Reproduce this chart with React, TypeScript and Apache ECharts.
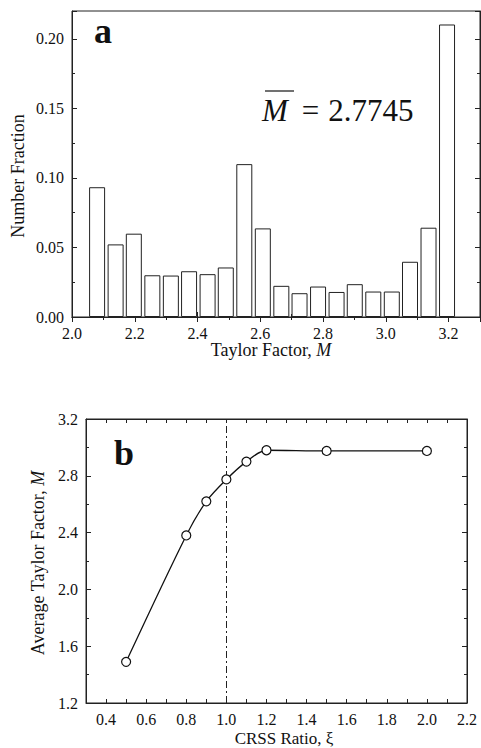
import React, { useEffect, useRef } from "react";
import * as echarts from "echarts";

// Panel a: histogram of Taylor factor
const barCenters = [2.08, 2.139, 2.197, 2.256, 2.315, 2.373, 2.432, 2.49, 2.549, 2.608, 2.667, 2.725, 2.784, 2.843, 2.901, 2.96, 3.019, 3.077, 3.136, 3.195];
const barFractions = [0.0933, 0.0522, 0.0599, 0.030, 0.0298, 0.0329, 0.0308, 0.0356, 0.1099, 0.0637, 0.0224, 0.0171, 0.0219, 0.018, 0.0236, 0.0183, 0.0183, 0.0397, 0.0642, 0.2103];

// Panel b: average Taylor factor vs CRSS ratio
const crssRatio = [0.5, 0.8, 0.9, 1.0, 1.1, 1.2, 1.5, 2.0];
const avgTaylor = [1.49, 2.38, 2.62, 2.7745, 2.9, 2.98, 2.975, 2.975];

const bXLabels = [0.4, 0.6, 0.8, 1.0, 1.2, 1.4, 1.6, 1.8, 2.0, 2.2];
const meanText = "2.7745";

const SERIF = "Liberation Serif";

export default function App() {
  const ref = useRef<HTMLDivElement>(null);
  useEffect(() => {
    if (!ref.current) return;
    const chart = echarts.init(ref.current, null, { renderer: "svg" });
    const tickLbl = { color: "#111", fontFamily: SERIF, fontSize: 16 };
    const line = { show: true, lineStyle: { color: "#222", width: 1 } };
    const tick = (len: number) => ({ show: true, inside: true, length: len, lineStyle: { color: "#222", width: 1 } });
    const minor = (n: number) => ({ show: true, splitNumber: n, length: 3, lineStyle: { color: "#222", width: 1 } });
    const txt = (text: string, x: number, y: number, size: number, extra: any = {}, rot = 0, richExtra: any = {}) => ({
      type: "text", x, y, rotation: rot,
      style: {
        text, fontFamily: SERIF, fontSize: size, fill: "#111", textAlign: "center", textVerticalAlign: "middle",
        rich: { i: { fontStyle: "italic", fontSize: size, fontFamily: SERIF, fill: "#111" }, ...richExtra },
        ...extra,
      },
    });
    const option: any = {
      animation: false,
      backgroundColor: "#fff",
      textStyle: { fontFamily: SERIF },
      grid: [
        { left: 72, top: 11, width: 408, height: 306, show: true, borderColor: "#222", borderWidth: 1 },
        { left: 86, top: 419, width: 381, height: 284, show: true, borderColor: "#222", borderWidth: 1 },
      ],
      xAxis: [
        {
          type: "value", gridIndex: 0, position: "bottom", min: 2.0, max: 3.3, interval: 0.2,
          axisLine: line, axisTick: tick(5), minorTick: minor(2), splitLine: { show: false },
          axisLabel: { ...tickLbl, margin: 8, showMaxLabel: false, formatter: (v: number) => (Math.abs(v - 3.3) < 1e-6 ? "" : v.toFixed(1)) },
        },
        {
          type: "value", gridIndex: 0, position: "top", min: 2.0, max: 3.3, interval: 0.2,
          axisLine: line, axisTick: tick(5), minorTick: minor(2), splitLine: { show: false }, axisLabel: { show: false },
        },
        {
          type: "value", gridIndex: 1, position: "bottom", min: 0.3, max: 2.2, interval: 0.1,
          axisLine: line, axisTick: tick(4), splitLine: { show: false },
          axisLabel: { ...tickLbl, margin: 8, customValues: bXLabels, formatter: (v: number) => v.toFixed(1) },
        },
        {
          type: "value", gridIndex: 1, position: "top", min: 0.3, max: 2.2, interval: 0.1,
          axisLine: line, axisTick: tick(4), splitLine: { show: false }, axisLabel: { show: false },
        },
      ],
      yAxis: [
        {
          type: "value", gridIndex: 0, position: "left", min: 0, max: 0.22, interval: 0.05,
          axisLine: line, axisTick: tick(5), minorTick: minor(2), splitLine: { show: false },
          axisLabel: { ...tickLbl, margin: 8, showMaxLabel: false, formatter: (v: number) => (v > 0.21 ? "" : v.toFixed(2)) },
        },
        {
          type: "value", gridIndex: 0, position: "right", min: 0, max: 0.22, interval: 0.05,
          axisLine: line, axisTick: tick(5), minorTick: minor(2), splitLine: { show: false }, axisLabel: { show: false },
        },
        {
          type: "value", gridIndex: 1, position: "left", min: 1.2, max: 3.2, interval: 0.4,
          axisLine: line, axisTick: tick(5), minorTick: minor(2), splitLine: { show: false },
          axisLabel: { ...tickLbl, margin: 8, formatter: (v: number) => v.toFixed(1) },
        },
        {
          type: "value", gridIndex: 1, position: "right", min: 1.2, max: 3.2, interval: 0.4,
          axisLine: line, axisTick: tick(5), minorTick: minor(2), splitLine: { show: false }, axisLabel: { show: false },
        },
      ],
      series: [
        {
          type: "bar", xAxisIndex: 0, yAxisIndex: 0, barWidth: 16,
          data: barCenters.map((x, i) => [x, barFractions[i]]),
          itemStyle: { color: "#fff", borderColor: "#222", borderWidth: 1 },
        },
        {
          type: "line", xAxisIndex: 2, yAxisIndex: 2, smooth: 0.3,
          data: crssRatio.map((x, i) => [x, avgTaylor[i]]),
          symbol: "circle", symbolSize: 9,
          itemStyle: { color: "#fff", borderColor: "#111", borderWidth: 1.2 },
          lineStyle: { color: "#111", width: 1.3 },
          markLine: {
            silent: true, symbol: "none", label: { show: false },
            lineStyle: { color: "#222", width: 1, type: [7, 3, 2, 3] },
            data: [{ xAxis: 1.0 }],
          },
          z: 5,
        },
      ],
      graphic: [
        txt("a", 94, 31, 36, { fontWeight: "bold", textAlign: "left" }),
        txt("b", 114, 453, 36, { fontWeight: "bold", textAlign: "left" }),
        txt("{i|M}{e|=}{n|" + meanText + "}", 262, 110, 31, { textAlign: "left" }, 0, {
          e: { fontSize: 31, fontFamily: SERIF, fill: "#111", padding: [0, 9, 0, 14] },
          n: { fontSize: 31, fontFamily: SERIF, fill: "#111" },
        }),
        { type: "line", shape: { x1: 265, y1: 91, x2: 294, y2: 91 }, style: { stroke: "#111", lineWidth: 1.2 } },
        txt("Number Fraction", 18, 176, 18, {}, Math.PI / 2),
        txt("Taylor Factor, {i|M}", 271, 350, 18),
        txt("Average Taylor Factor, {i|M}", 38, 563, 18, {}, Math.PI / 2),
        txt("CRSS Ratio, ξ", 284, 738, 17),
      ],
    };
    chart.setOption(option);
    return () => chart.dispose();
  }, []);
  return <div ref={ref} style={{ position: "fixed", left: 0, top: 0, width: 481, height: 748, background: "#fff" }} />;
}
